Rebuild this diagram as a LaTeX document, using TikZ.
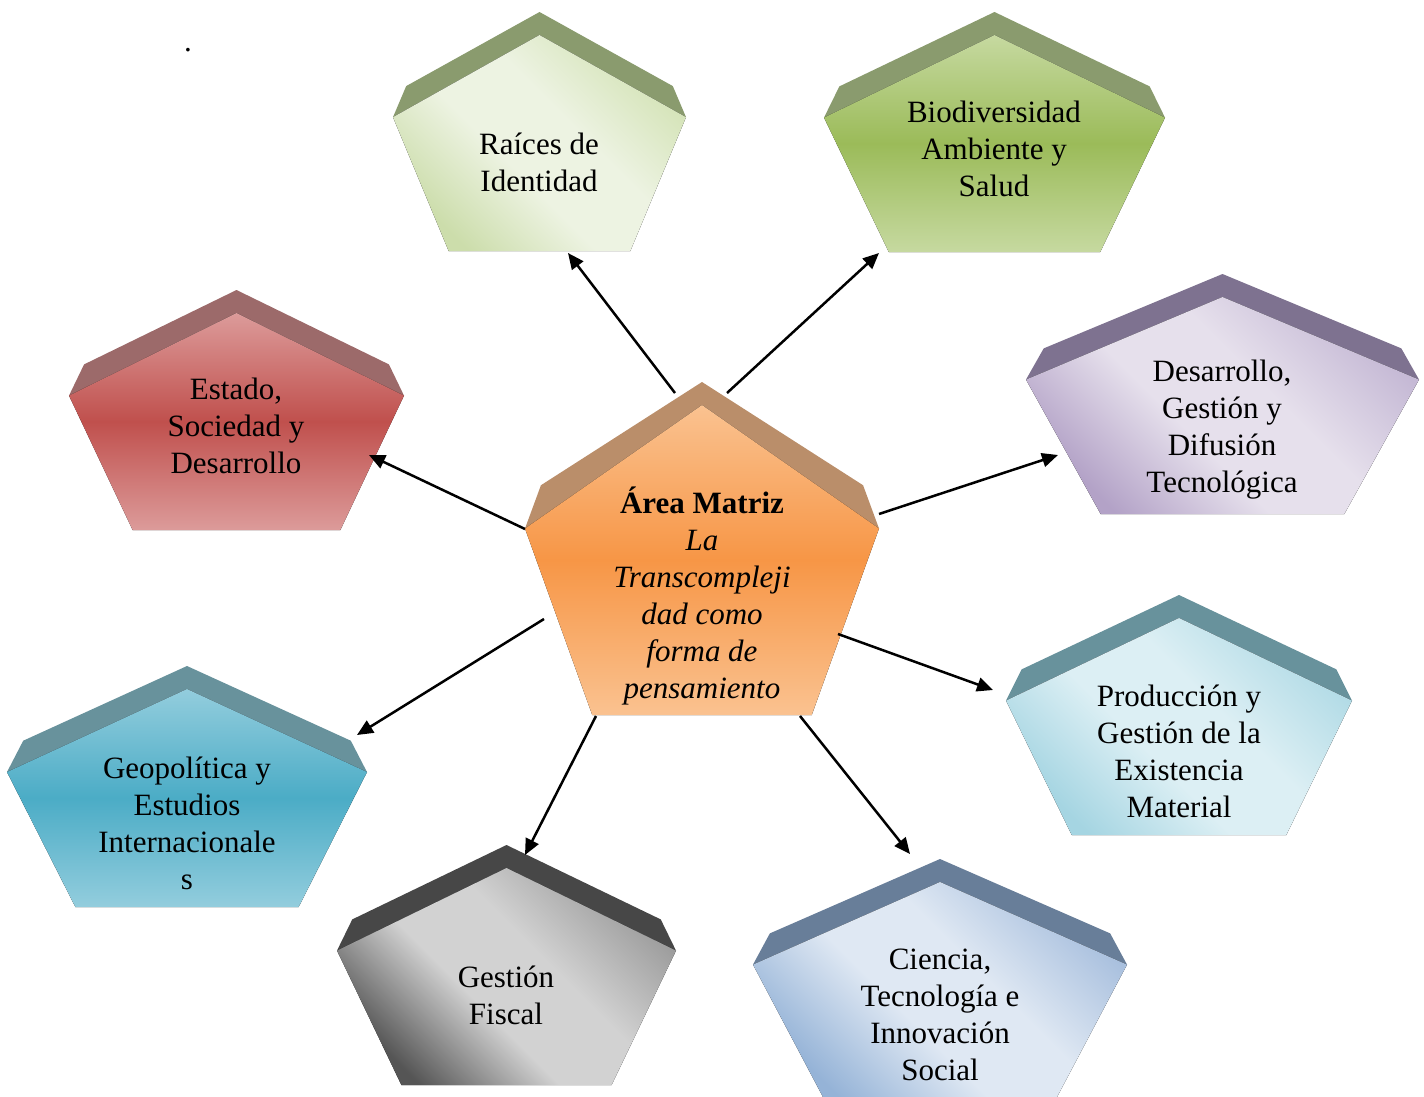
\documentclass[tikz,border=0pt]{standalone}
\usepackage{fontspec}
\setmainfont{Liberation Serif}
\usetikzlibrary{arrows.meta}

\definecolor{orangeBevel}{HTML}{BA8E6A}
\definecolor{greenBevel}{HTML}{8A9B6E}
\definecolor{redBevel}{HTML}{9C6A6A}
\definecolor{lilacBevel}{HTML}{7E7290}
\definecolor{tealBevel}{HTML}{68929C}
\definecolor{steelBevel}{HTML}{687E99}
\definecolor{grayBevel}{HTML}{474747}
\definecolor{orangeLight}{HTML}{FAC290}
\definecolor{orangeMid}{HTML}{F79646}
\definecolor{sageDark}{HTML}{CCDDAB}
\definecolor{sageLight}{HTML}{EDF3E2}
\definecolor{sageEnd}{HTML}{D4E3B7}
\definecolor{greenLight}{HTML}{C6D9A0}
\definecolor{greenMid}{HTML}{9BBB59}
\definecolor{redLight}{HTML}{DC9B9A}
\definecolor{redMid}{HTML}{C0504D}
\definecolor{lilacDark}{HTML}{B3A2C7}
\definecolor{lilacLight}{HTML}{E6E0EC}
\definecolor{lilacEnd}{HTML}{C5B9D5}
\definecolor{aquaDark}{HTML}{A5D5E2}
\definecolor{aquaLight}{HTML}{DCEFF4}
\definecolor{aquaEnd}{HTML}{B2DBE6}
\definecolor{tealLight}{HTML}{93CDDD}
\definecolor{tealMid}{HTML}{4BACC6}
\definecolor{grayDark}{HTML}{555555}
\definecolor{grayLight}{HTML}{D2D2D2}
\definecolor{grayEnd}{HTML}{9C9C9C}
\definecolor{steelDark}{HTML}{95B3D7}
\definecolor{steelLight}{HTML}{DFE8F3}
\definecolor{steelEnd}{HTML}{A9C0DE}

% diagonal face shading, broad light band in the middle
\colorlet{pentA}{white}\colorlet{pentB}{white}\colorlet{pentC}{white}
\pgfdeclareverticalshading[pentA,pentB,pentC]{pentdiag}{100bp}{color(0bp)=(pentC); color(25bp)=(pentC); color(43bp)=(pentB); color(57bp)=(pentB); color(75bp)=(pentA); color(100bp)=(pentA)}

% pentagon with a bevelled top: left, top, width, height, bevel style, face style
\newcommand{\pentbox}[6]{%
  \begin{scope}[shift={(#1,-#2)}]
    \fill[#5] (0,-0.44*#4) -- (0.045*#3,-0.31*#4) -- (0.5*#3,0) -- (0.955*#3,-0.31*#4) -- (#3,-0.44*#4) -- (0.5*#3,-23) -- cycle;
    \fill[#6] (0,-0.44*#4) -- (0.5*#3,-23) -- (#3,-0.44*#4) -- (0.81*#3,-#4) -- (0.19*#3,-#4) -- cycle;
  \end{scope}}

\begin{document}
\begin{tikzpicture}
[x=1pt, y=1pt,
 every node/.style={inner sep=0pt, align=center, font=\fontsize{31}{37}\selectfont},
 diag/.style n args={3}{/utils/exec={\colorlet{pentA}{#1}\colorlet{pentB}{#2}\colorlet{pentC}{#3}}, shade, shading=pentdiag, shading angle=135},
 conn/.style={line width=2.5pt, -{Triangle[length=16pt,width=14pt]}}]
\useasboundingbox (0,0) rectangle (1424,-1097);

\pentbox{525}{382}{354}{333}{orangeBevel}{top color=orangeLight, bottom color=orangeLight, middle color=orangeMid}
\pentbox{393}{12}{293}{239}{greenBevel}{diag={sageDark}{sageLight}{sageEnd}}
\pentbox{824}{12}{341}{240}{greenBevel}{top color=greenLight, bottom color=greenLight, middle color=greenMid}
\pentbox{69}{290}{335}{240}{redBevel}{top color=redLight, bottom color=redLight, middle color=redMid}
\pentbox{1026}{274}{393}{240}{lilacBevel}{diag={lilacDark}{lilacLight}{lilacEnd}}
\pentbox{1006}{595}{346}{240}{tealBevel}{diag={aquaDark}{aquaLight}{aquaEnd}}
\pentbox{7}{666}{360}{241}{tealBevel}{top color=tealLight, bottom color=tealLight, middle color=tealMid}
\pentbox{337}{845}{339}{240}{grayBevel}{diag={grayDark}{grayLight}{grayEnd}}
\pentbox{753}{859}{374}{240}{steelBevel}{diag={steelDark}{steelLight}{steelEnd}}

\node (dot) [anchor=base] at (188,-52) {.};
\node (matriz) at (702,-596) {\textbf{Área Matriz}\\\textit{La}\\\textit{Transcompleji}\\\textit{dad como}\\\textit{forma de}\\\textit{pensamiento}};
\node (raices) at (539,-162) {Raíces de\\Identidad};
\node (bio) at (994,-149) {Biodiversidad\\Ambiente y\\Salud};
\node (estado) at (236,-426) {Estado,\\Sociedad y\\Desarrollo};
\node (desarrollo) at (1222,-430) {Desarrollo,\\Gestión y\\Difusión\\Tecnológica};
\node (produccion) at (1179,-751) {Producción y\\Gestión de la\\Existencia\\Material};
\node (geo) at (187,-823) {Geopolítica y\\Estudios\\Internacionale\\s};
\node (fiscal) at (506,-995) {Gestión\\Fiscal};
\node (ciencia) at (940,-1015) {Ciencia,\\Tecnología e\\Innovación\\Social};

% arrow ends
\coordinate (m-raices) at (675,-393);
\coordinate (m-bio) at (727,-393);
\coordinate (m-estado) at (525,-529);
\coordinate (m-desarrollo) at (879,-514);
\coordinate (m-geo) at (544,-619);
\coordinate (m-produccion) at (838,-634);
\coordinate (m-fiscal) at (596,-716);
\coordinate (m-ciencia) at (800,-716);
\coordinate (t-raices) at (568,-253);
\coordinate (t-bio) at (879,-253);
\coordinate (t-estado) at (369,-455);
\coordinate (t-desarrollo) at (1058,-455);
\coordinate (t-geo) at (357,-735);
\coordinate (t-produccion) at (993,-690);
\coordinate (t-fiscal) at (525,-855);
\coordinate (t-ciencia) at (910,-854);

\draw [conn] (m-raices) -- (t-raices);
\draw [conn] (m-bio) -- (t-bio);
\draw [conn] (m-estado) -- (t-estado);
\draw [conn] (m-desarrollo) -- (t-desarrollo);
\draw [conn] (m-geo) -- (t-geo);
\draw [conn] (m-produccion) -- (t-produccion);
\draw [conn] (m-fiscal) -- (t-fiscal);
\draw [conn] (m-ciencia) -- (t-ciencia);
\end{tikzpicture}
\end{document}
